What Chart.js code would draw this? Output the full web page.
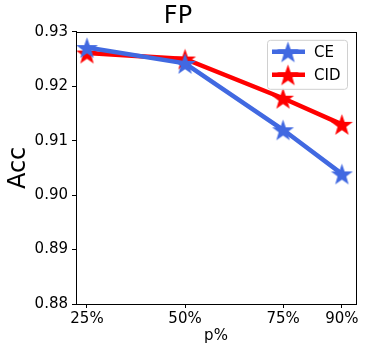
<!DOCTYPE html>
<html>
<head>
<meta charset="utf-8">
<script src="https://cdn.jsdelivr.net/npm/chart.js@4"></script>
<style>
body { margin: 0; background: #fff; }
</style>
</head>
<body>
<canvas id="myChart" width="365" height="352"></canvas>
<script>
const ctx = document.getElementById('myChart');

// data
const pValues = [25, 50, 75, 90];
const tickLabels = ['25%', '50%', '75%', '90%'];
const ceAcc = [0.9271, 0.9242, 0.9120, 0.9039];
const cidAcc = [0.9261, 0.9250, 0.9178, 0.9130];
const seriesNames = ['CE', 'CID'];

const FONT = "'DejaVu Sans', sans-serif";

// filled 5 point star, like matplotlib '*'
function makeStar(color, r) {
    const c = document.createElement('canvas');
    c.width = c.height = 2 * r + 2;
    const g = c.getContext('2d');
    g.beginPath();
    for (let i = 0; i < 10; i++) {
        const a = -Math.PI / 2 + i * Math.PI / 5;
        const rad = (i % 2) ? r * 0.4 : r;
        const x = r + 1 + rad * Math.cos(a);
        const y = r + 1 + rad * Math.sin(a) + r * 0.1;
        i === 0 ? g.moveTo(x, y) : g.lineTo(x, y);
    }
    g.closePath();
    g.fillStyle = color;
    g.fill();
    return c;
}

const blueStar = makeStar('#4169e1', 11.5);
const redStar = makeStar('#ff0000', 11.5);

const frame = {
    id: 'frame',
    afterDraw(chart) {
        const a = chart.chartArea, g = chart.ctx;
        g.save();
        g.strokeStyle = '#000';
        g.lineWidth = 1;
        g.strokeRect(Math.round(a.left) + 0.5, Math.round(a.top) + 0.5,
            Math.round(a.right - a.left), Math.round(a.bottom - a.top));
        g.restore();
    }
};

// matplotlib style legend box with line + marker
const boxLegend = {
    id: 'boxLegend',
    afterDraw(chart) {
        const a = chart.chartArea, g = chart.ctx;
        const w = 80, h = 49;
        const x0 = a.right - 9 - w, y0 = a.top + 8;
        g.save();
        g.fillStyle = 'rgba(255,255,255,0.8)';
        g.strokeStyle = '#d0d0d0';
        g.lineWidth = 1;
        g.beginPath();
        g.roundRect(x0 + 0.5, y0 + 0.5, w, h, 3);
        g.fill();
        g.stroke();
        chart.data.datasets.forEach((ds, i) => {
            const y = y0 + 12 + i * 23;
            g.strokeStyle = ds.borderColor;
            g.lineWidth = ds.borderWidth;
            g.beginPath();
            g.moveTo(x0 + 5, y);
            g.lineTo(x0 + 38, y);
            g.stroke();
            const img = ds.pointStyle;
            g.drawImage(img, x0 + 21 - img.width / 2, y - img.height / 2);
            g.fillStyle = '#000';
            g.font = '15px ' + FONT;
            g.textBaseline = 'middle';
            g.fillText(ds.label, x0 + 47, y + 1);
        });
        g.restore();
    }
};

new Chart(ctx, {
    type: 'line',
    plugins: [frame, boxLegend],
    data: {
        datasets: [
            {
                label: seriesNames[0],
                data: pValues.map((p, i) => ({ x: p, y: ceAcc[i] })),
                borderColor: '#4169e1',
                borderWidth: 4.5,
                pointStyle: blueStar,
                pointRadius: 11,
            },
            {
                label: seriesNames[1],
                data: pValues.map((p, i) => ({ x: p, y: cidAcc[i] })),
                borderColor: '#ff0000',
                borderWidth: 4.5,
                pointStyle: redStar,
                pointRadius: 11,
            },
        ],
    },
    options: {
        responsive: false,
        animation: false,
        clip: false,
        layout: { autoPadding: false, padding: { left: 0, right: 9, top: 0, bottom: 0 } },
        plugins: {
            legend: { display: false },
            tooltip: { enabled: false },
            title: {
                display: true,
                text: 'FP',
                color: '#000',
                font: { family: FONT, size: 24, weight: 'normal' },
                padding: { top: 2, bottom: 1 },
            },
        },
        scales: {
            x: {
                type: 'linear',
                min: 22.2,
                max: 93.6,
                afterBuildTicks: s => { s.ticks = pValues.map(v => ({ value: v })); },
                afterFit: s => { s.height = 48; s.paddingLeft = 0; s.paddingRight = 0; },
                ticks: {
                    color: '#000',
                    font: { family: FONT, size: 15 },
                    padding: 2,
                    maxRotation: 0,
                    callback: (v) => tickLabels[pValues.indexOf(v)],
                },
                grid: { drawOnChartArea: false, drawTicks: true, tickLength: 4, color: '#000' },
                border: { display: true, color: '#000' },
                title: {
                    display: true,
                    text: 'p%',
                    color: '#000',
                    font: { family: FONT, size: 15 },
                    padding: { top: 0, bottom: 7 },
                },
            },
            y: {
                min: 0.88,
                max: 0.93,
                afterFit: s => { s.width = 76; },
                ticks: {
                    stepSize: 0.01,
                    color: '#000',
                    font: { family: FONT, size: 15 },
                    padding: 4,
                    callback: v => v.toFixed(2),
                },
                grid: { drawOnChartArea: false, drawTicks: true, tickLength: 4, color: '#000' },
                border: { display: true, color: '#000' },
                title: {
                    display: true,
                    text: 'Acc',
                    color: '#000',
                    font: { family: FONT, size: 24 },
                    padding: { top: 4, bottom: 0 },
                },
            },
        },
    },
});
</script>
</body>
</html>
